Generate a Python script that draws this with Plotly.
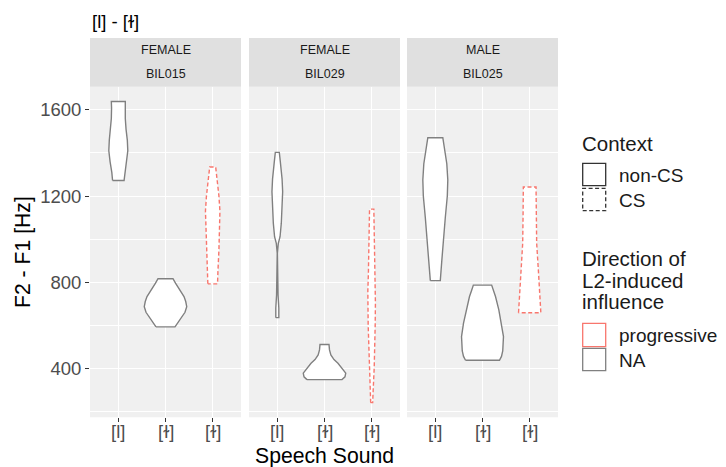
import plotly.graph_objects as go

# The page body adds an 8px margin, so the figure is drawn 8px smaller and
# every reference pixel position is shifted by that offset.
PAGE_W, PAGE_H = 726, 467
OFF = 8
W, H = PAGE_W - OFF, PAGE_H - OFF

# ---------------- data ----------------
speakers = ["BIL015", "BIL029", "BIL025"]
sexes = ["FEMALE", "FEMALE", "MALE"]
sound_labels = ["[l]", "[ɫ]", "[ɫ]"]
contexts = ["non-CS", "non-CS", "CS"]
directions = ["NA", "NA", "progressive"]

# Violin profiles: F2-F1 levels (Hz) and relative density (1 = widest violin)
bil015_l_hz = [1272, 1310, 1360, 1410, 1460, 1510, 1560, 1610, 1639]
bil015_l_dens = [0.271, 0.306, 0.388, 0.447, 0.424, 0.365, 0.329, 0.318, 0.329]
bil015_dl_hz = [592, 605, 616, 640, 660, 686, 710, 733, 764, 795, 816]
bil015_dl_dens = [0.447, 0.541, 0.628, 0.776, 0.918, 1.0, 0.953, 0.871, 0.659, 0.471, 0.353]
bil015_dlcs_hz = [792, 850, 950, 1050, 1130, 1200, 1280, 1335]
bil015_dlcs_dens = [0.228, 0.247, 0.294, 0.329, 0.341, 0.294, 0.212, 0.141]

bil029_l_hz = [635, 680, 740, 800, 870, 934, 980, 1011, 1074, 1151, 1220, 1280, 1321, 1360, 1403]
bil029_l_dens = [0.071, 0.071, 0.035, 0.019, 0.008, 0.004, 0.047, 0.129, 0.188, 0.235, 0.252, 0.224, 0.195, 0.141, 0.094]
bil029_dl_hz = [347, 360, 377, 395, 423, 440, 462, 485, 510]
bil029_dl_dens = [0.824, 0.965, 1.0, 0.871, 0.635, 0.447, 0.299, 0.235, 0.212]
bil029_dlcs_hz = [240, 300, 400, 500, 600, 700, 760, 850, 950, 1050, 1139]
bil029_dlcs_dens = [0.047, 0.071, 0.118, 0.153, 0.165, 0.176, 0.181, 0.153, 0.129, 0.113, 0.101]

bil025_l_hz = [807, 900, 1000, 1100, 1200, 1275, 1350, 1420, 1471]
bil025_l_dens = [0.235, 0.306, 0.376, 0.471, 0.565, 0.588, 0.541, 0.447, 0.353]
bil025_dl_hz = [437, 455, 480, 547, 610, 671, 733, 760, 786]
bil025_dl_dens = [0.8, 0.894, 0.953, 0.988, 0.894, 0.769, 0.612, 0.518, 0.431]
bil025_dlcs_hz = [658, 750, 850, 981, 1100, 1242]
bil025_dlcs_dens = [0.525, 0.471, 0.412, 0.329, 0.313, 0.299]

y_ticks = [400, 800, 1200, 1600]
y_minor = [200, 600, 1000, 1400]

violins = [
    [(bil015_l_hz, bil015_l_dens), (bil015_dl_hz, bil015_dl_dens), (bil015_dlcs_hz, bil015_dlcs_dens)],
    [(bil029_l_hz, bil029_l_dens), (bil029_dl_hz, bil029_dl_dens), (bil029_dlcs_hz, bil029_dlcs_dens)],
    [(bil025_l_hz, bil025_l_dens), (bil025_dl_hz, bil025_dl_dens), (bil025_dlcs_hz, bil025_dlcs_dens)],
]

# ---------------- styling ----------------
FONT = "Liberation Sans, Arial, Helvetica, sans-serif"
RED = "#F8766D"
GREY = "#808080"
PANEL_BG = "#F0F0F0"
STRIP_BG = "#E0E0E0"
MAX_WIDTH = 0.9
CS_DASH = "4px,2.5px"
TICK_SIZE = 18.5

def px_x(p):
    return (p - OFF) / W

def px_y(p):
    return 1 - (p - OFF) / H

panel_px = [(90, 241), (249, 400), (407, 558)]
top_px, bot_px = 86.7, 417.3
strip_top = 38

fig = go.Figure()

for pi, panel in enumerate(violins):
    xa = "x" if pi == 0 else f"x{pi+1}"
    ya = "y" if pi == 0 else f"y{pi+1}"
    for ci, (hz, dens) in enumerate(panel):
        center = ci + 1
        half = [d * MAX_WIDTH / 2 for d in dens]
        xs = [center - h for h in half] + [center + h for h in reversed(half)] + [center - half[0]]
        ys = list(hz) + list(reversed(hz)) + [hz[0]]
        prog = directions[ci] == "progressive"
        cs = contexts[ci] == "CS"
        fig.add_trace(go.Scatter(
            x=xs, y=ys, xaxis=xa, yaxis=ya, mode="lines", fill="toself",
            fillcolor="white",
            line=dict(color=RED if prog else GREY, width=1.4,
                      dash=CS_DASH if cs else "solid"),
            hoverinfo="skip", showlegend=False,
        ))

layout = dict(
    width=W, height=H, autosize=False,
    margin=dict(l=0, r=0, t=0, b=0),
    paper_bgcolor="white", plot_bgcolor=PANEL_BG,
    font=dict(family=FONT, color="#1A1A1A"),
    showlegend=False,
)

for pi in range(3):
    sfx = "" if pi == 0 else str(pi + 1)
    x0, x1 = panel_px[pi]
    layout["xaxis" + sfx] = dict(
        domain=[px_x(x0), px_x(x1)], range=[0.4, 3.6], anchor="y" + sfx,
        tickvals=[1, 2, 3], showticklabels=False, ticks="outside", ticklen=4,
        tickcolor="#333333", tickwidth=1,
        showgrid=True, gridcolor="white", gridwidth=1.3, zeroline=False,
        showline=False, fixedrange=True,
    )
    layout["yaxis" + sfx] = dict(
        domain=[px_y(bot_px), px_y(top_px)], range=[172, 1708], anchor="x" + sfx,
        tickvals=y_ticks, ticks="outside" if pi == 0 else "", ticklen=4,
        tickcolor="#333333", tickwidth=1, showticklabels=(pi == 0),
        tickfont=dict(size=TICK_SIZE, color="#4D4D4D", family=FONT),
        showgrid=True, gridcolor="white", gridwidth=1.3, zeroline=False,
        minor=dict(tickvals=y_minor, showgrid=True, gridcolor="white", gridwidth=0.7, ticks=""),
        showline=False, fixedrange=True,
    )

shapes = []
annotations = []
for pi in range(3):
    x0, x1 = panel_px[pi]
    xa = "x" if pi == 0 else f"x{pi+1}"
    shapes.append(dict(type="rect", xref="paper", yref="paper",
                       x0=px_x(x0), x1=px_x(x1), y0=px_y(top_px), y1=px_y(strip_top),
                       fillcolor=STRIP_BG, line=dict(width=0), layer="below"))
    cx = px_x((x0 + x1) / 2)
    annotations.append(dict(xref="paper", yref="paper", x=cx, y=px_y(50.5), text=sexes[pi],
                            showarrow=False, xanchor="center", yanchor="middle",
                            font=dict(size=12.5, color="#1A1A1A", family=FONT)))
    annotations.append(dict(xref="paper", yref="paper", x=cx, y=px_y(74), text=speakers[pi],
                            showarrow=False, xanchor="center", yanchor="middle",
                            font=dict(size=12.5, color="#1A1A1A", family=FONT)))
    # category tick labels, placed on the panel's own x axis
    for ci, lab in enumerate(sound_labels):
        annotations.append(dict(xref=xa, yref="paper", x=ci + 1, y=px_y(431.5), text=lab,
                                showarrow=False, xanchor="center", yanchor="middle",
                                font=dict(size=TICK_SIZE, color="#4D4D4D", family=FONT)))

# titles
annotations.append(dict(xref="paper", yref="paper", x=px_x(90), y=px_y(21), text="[l] - [ɫ]",
                        showarrow=False, xanchor="left", yanchor="middle",
                        font=dict(size=18.5, color="black", family=FONT)))
annotations.append(dict(xref="paper", yref="paper", x=px_x(324), y=px_y(455.5), text="Speech Sound",
                        showarrow=False, xanchor="center", yanchor="middle",
                        font=dict(size=21.2, color="black", family=FONT)))
annotations.append(dict(xref="paper", yref="paper", x=px_x(23), y=px_y(252), text="F2 - F1 [Hz]",
                        showarrow=False, xanchor="center", yanchor="middle", textangle=-90,
                        font=dict(size=21.2, color="black", family=FONT)))

# legend
LX0, LX1 = 582.7, 605.7
def key(y0, y1, color, dash):
    shapes.append(dict(type="rect", xref="paper", yref="paper",
                       x0=px_x(LX0), x1=px_x(LX1), y0=px_y(y1), y1=px_y(y0),
                       fillcolor="white", line=dict(color=color, width=1.3, dash=dash)))

def ltext(y, txt, x=616.5, size=19):
    annotations.append(dict(xref="paper", yref="paper", x=px_x(x), y=px_y(y), text=txt,
                            showarrow=False, xanchor="left", yanchor="middle",
                            font=dict(size=size, color="#1A1A1A", family=FONT)))

TITLE_X, TITLE_SIZE = 580, 20.5
ltext(143, "Context", x=TITLE_X, size=TITLE_SIZE)
key(163.3, 185.7, "#333333", "solid")
key(188.3, 210.7, "#333333", CS_DASH)
ltext(175, contexts[0])
ltext(200, contexts[2])
ltext(258, "Direction of", x=TITLE_X, size=TITLE_SIZE)
ltext(280, "L2-induced", x=TITLE_X, size=TITLE_SIZE)
ltext(301.7, "influence", x=TITLE_X, size=TITLE_SIZE)
key(323.3, 346.7, RED, "solid")
key(348.3, 370.7, GREY, "solid")
ltext(335, directions[2])
ltext(360, directions[0])

layout["shapes"] = shapes
layout["annotations"] = annotations
fig.update_layout(**layout)
fig.write_html("out.html")
